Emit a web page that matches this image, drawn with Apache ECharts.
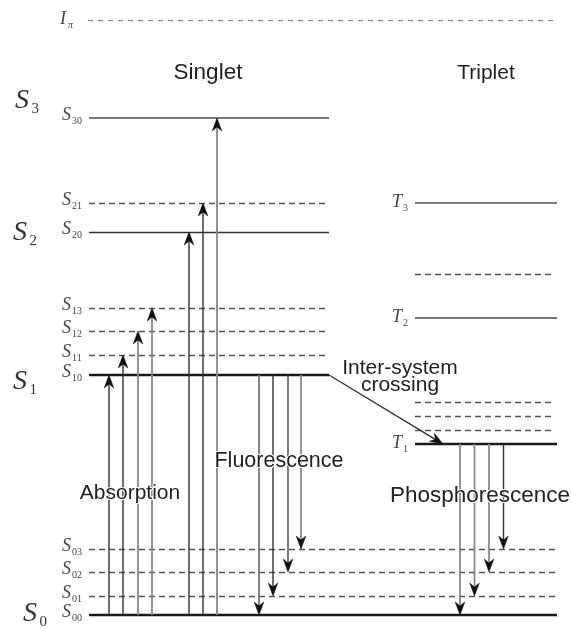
<!DOCTYPE html>
<html><head><meta charset="utf-8">
<script src="https://cdn.jsdelivr.net/npm/echarts@6/dist/echarts.min.js"></script>
<style>html,body{margin:0;padding:0;background:#fff}#chart{width:571px;height:628px}</style>
</head><body><div id="chart"></div>
<script>
// ===== DATA: energy levels (arbitrary energy units, S00 = 0) =====
const singletNames  = ['S00','S01','S02','S03','S10','S11','S12','S13','S20','S21','S30'];
const singletEnergy = [0, 19, 43, 66, 240, 260, 284, 307, 383, 412, 497];
const tripletNames  = ['T1','T1v1','T1v2','T1v3','T2','T2v1','T3'];
const tripletEnergy = [171, 185, 199, 213, 297, 341, 412];
const ionizationName = 'Ipi';
const ionizationEnergy = 595;

// ===== DATA: transitions =====
const absorptionFrom = ['S00','S00','S00','S00','S00','S00','S00'];
const absorptionTo   = ['S10','S11','S12','S13','S20','S21','S30'];
const fluorescenceFrom = ['S10','S10','S10','S10'];
const fluorescenceTo   = ['S00','S01','S02','S03'];
const phosphorescenceFrom = ['T1','T1','T1','T1'];
const phosphorescenceTo   = ['S00','S01','S02','S03'];
const iscFrom = 'S10';
const iscTo = 'T1';

// ===== DATA: texts =====
const levelLabelMain = {S00:'S',S01:'S',S02:'S',S03:'S',S10:'S',S11:'S',S12:'S',S13:'S',S20:'S',S21:'S',S30:'S',T1:'T',T2:'T',T3:'T',Ipi:'I'};
const levelLabelSub  = {S00:'00',S01:'01',S02:'02',S03:'03',S10:'10',S11:'11',S12:'12',S13:'13',S20:'20',S21:'21',S30:'30',T1:'1',T2:'2',T3:'3',Ipi:'π'};
const stateNames = ['S0','S1','S2','S3'];
const stateSub   = ['0','1','2','3'];
const stateLevel = ['S00','S10','S20','S30'];
const annotationTexts = ['Singlet','Triplet','Inter-system','crossing','Fluorescence','Absorption','Phosphorescence'];

// ===== LAYOUT & STYLE (not data) =====
const layout = {
  spans: {full:[89,557], singlet:[89,329], triplet:[415,557], tripletDash:[415,555], ion:[88,557]},
  absorptionX: [109, 123, 138, 152, 189, 203, 217],
  fluorescenceX: [259, 273, 288, 301],
  phosphorescenceX: [460, 474.5, 489, 503.5],
  iscEndX: 443,
  smallLabelX: 62, tripletLabelX: 392, ionLabelX: 60,
  stateLabelX: [23, 13, 13, 15],
  stateLabelDy: [-1, 7, 1, -17],
  annotationX: [208, 486, 400, 400, 279, 130, 480],
  annotationE: [542, 542, 247, 230, 154, 122, 119],
  annotationSize: [22.5, 21, 21, 21, 21.5, 21, 22.5]
};
const levelKind = {
  S00:['full','thick'], S01:['full','dash'], S02:['full','dash'], S03:['full','dash'],
  S10:['singlet','thick'], S11:['singlet','dash'], S12:['singlet','dash'], S13:['singlet','dash'],
  S20:['singlet','solid'], S21:['singlet','dash'], S30:['singlet','light'],
  T1:['triplet','thick'], T1v1:['tripletDash','dash'], T1v2:['tripletDash','dash'], T1v3:['tripletDash','dash'],
  T2:['triplet','light'], T2v1:['tripletDash','dash'], T3:['triplet','light'],
  Ipi:['ion','dashLight']
};
const strokes = {
  thick:{stroke:'#1a1a1a', lineWidth:2.6},
  solid:{stroke:'#333', lineWidth:1.6},
  light:{stroke:'#7a7a7a', lineWidth:2},
  dash:{stroke:'#555', lineWidth:1.3, lineDash:[6,4]},
  dashLight:{stroke:'#8a8a8a', lineWidth:1.3, lineDash:[5,5]}
};
const arrowColors = {
  absorption: ['#333','#333','#888','#888','#333','#333','#888'],
  fluorescence: ['#777','#333','#444','#888'],
  phosphorescence: ['#888','#888','#888','#333'],
  isc: '#333'
};

// ===== build =====
const allNames = singletNames.concat(tripletNames, [ionizationName]);
const allEnergy = singletEnergy.concat(tripletEnergy, [ionizationEnergy]);
const E = n => allEnergy[allNames.indexOf(n)];

const levelRows = allNames.map(n => {
  const sp = layout.spans[levelKind[n][0]];
  return [sp[0], E(n), sp[1]];
});

const arrowRows = [], arrowCol = [];
absorptionTo.forEach((t,i) => { arrowRows.push([layout.absorptionX[i], E(absorptionFrom[i]), layout.absorptionX[i], E(t)]); arrowCol.push(arrowColors.absorption[i]); });
fluorescenceTo.forEach((t,i) => { arrowRows.push([layout.fluorescenceX[i], E(fluorescenceFrom[i]), layout.fluorescenceX[i], E(t)]); arrowCol.push(arrowColors.fluorescence[i]); });
phosphorescenceTo.forEach((t,i) => { arrowRows.push([layout.phosphorescenceX[i], E(phosphorescenceFrom[i]), layout.phosphorescenceX[i], E(t)]); arrowCol.push(arrowColors.phosphorescence[i]); });
arrowRows.push([layout.spans.singlet[1], E(iscFrom), layout.iscEndX, E(iscTo)]); arrowCol.push(arrowColors.isc);

// level label specs
const labelSpecs = [], labelRows = [];
Object.keys(levelLabelMain).forEach(n => {
  const isT = n[0] === 'T', isI = n === 'Ipi';
  const x = isT ? layout.tripletLabelX : (isI ? layout.ionLabelX : layout.smallLabelX);
  labelRows.push([x, E(n)]);
  labelSpecs.push({main: levelLabelMain[n], sub: levelLabelSub[n],
    mainFont: 'italic 18px "Liberation Serif"', subFont: (isI ? 'italic ' : '') + '10px "Liberation Serif"',
    dy: isT || isI ? -1 : -3, subDx: isT ? 11 : (isI ? 8 : 10), subDy: 6, color:'#444'});
});
stateNames.forEach((s,i) => {
  labelRows.push([layout.stateLabelX[i], E(stateLevel[i])]);
  labelSpecs.push({main:'S', sub: stateSub[i], mainFont:'italic 28px "Liberation Serif"', subFont:'15px "Liberation Serif"',
    dy: layout.stateLabelDy[i], subDx: 16.5, subDy: 8, color:'#333'});
});

const annRows = annotationTexts.map((t,i) => [layout.annotationX[i], layout.annotationE[i]]);

const chart = echarts.init(document.getElementById('chart'), null, {renderer:'canvas'});
chart.setOption({
  animation: false,
  backgroundColor: '#fff',
  grid: {left:0, right:0, top:0, bottom:0},
  xAxis: {type:'value', min:0, max:571, show:false},
  yAxis: {type:'value', min:-13, max:615, show:false},
  series: [
    { type:'custom', name:'levels', data: levelRows, encode:{x:[0,2], y:1}, silent:true,
      renderItem(params, api){
        const a = api.coord([api.value(0), api.value(1)]);
        const b = api.coord([api.value(2), api.value(1)]);
        const st = strokes[levelKind[allNames[params.dataIndex]][1]];
        const y = Math.round(a[1]) + (st.lineWidth < 2 ? 0.5 : 0);
        return {type:'line', shape:{x1:a[0], y1:y, x2:b[0], y2:y}, style:Object.assign({fill:null}, st)};
      }
    },
    { type:'custom', name:'transitions', data: arrowRows, encode:{x:[0,2], y:[1,3]}, silent:true,
      renderItem(params, api){
        const p0 = api.coord([api.value(0), api.value(1)]);
        const p1 = api.coord([api.value(2), api.value(3)]);
        const dx = p1[0]-p0[0], dy = p1[1]-p0[1], len = Math.hypot(dx,dy);
        const ux = dx/len, uy = dy/len, nx = -uy, ny = ux;
        const L = 13, W = 4.8, N = 4;
        const base = [p1[0]-ux*L, p1[1]-uy*L];
        const notch = [p1[0]-ux*(L-N), p1[1]-uy*(L-N)];
        const col = arrowCol[params.dataIndex];
        const lw = col === '#888' || col === '#777' ? 1.8 : 1.4;
        return {type:'group', children:[
          {type:'line', shape:{x1:p0[0], y1:p0[1], x2:notch[0], y2:notch[1]}, style:{stroke:col, lineWidth:lw, fill:null}},
          {type:'polygon', shape:{points:[p1, [base[0]+nx*W, base[1]+ny*W], notch, [base[0]-nx*W, base[1]-ny*W]]}, style:{fill:'#111', stroke:'#111', lineWidth:0.5}}
        ]};
      }
    },
    { type:'custom', name:'levelLabels', data: labelRows, encode:{x:0, y:1}, silent:true,
      renderItem(params, api){
        const p = api.coord([api.value(0), api.value(1)]);
        const s = labelSpecs[params.dataIndex];
        return {type:'group', children:[
          {type:'text', x:p[0], y:p[1]+s.dy, style:{text:s.main, font:s.mainFont, fill:s.color, align:'left', verticalAlign:'middle'}},
          {type:'text', x:p[0]+s.subDx, y:p[1]+s.dy+s.subDy, style:{text:s.sub, font:s.subFont, fill:s.color, align:'left', verticalAlign:'middle'}}
        ]};
      }
    },
    { type:'custom', name:'annotations', data: annRows, encode:{x:0, y:1}, silent:true,
      renderItem(params, api){
        const p = api.coord([api.value(0), api.value(1)]);
        const i = params.dataIndex;
        return {type:'text', x:p[0], y:p[1], style:{text:annotationTexts[i], font:layout.annotationSize[i] + 'px "Liberation Sans"', fill:'#222',
          align:'center', verticalAlign:'middle', stroke:'#fff', lineWidth:2}};
      }
    }
  ]
});
</script></body></html>
